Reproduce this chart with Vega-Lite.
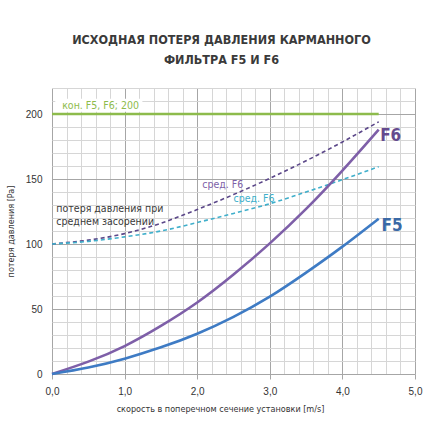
{
  "$schema": "https://vega.github.io/schema/vega-lite/v6.json",
  "width": 363,
  "height": 286,
  "autosize": {"type": "none"},
  "padding": {"left": 52, "top": 88, "right": 18, "bottom": 47},
  "background": "white",
  "title": {
    "text": ["ИСХОДНАЯ ПОТЕРЯ ДАВЛЕНИЯ КАРМАННОГО", "ФИЛЬТРА F5 И F6"],
    "font": "DejaVu Sans Condensed, sans-serif",
    "fontSize": 12.5,
    "fontWeight": "bold",
    "color": "#3a3a3a",
    "lineHeight": 20,
    "anchor": "middle",
    "baseline": "bottom",
    "offset": 4,
    "dx": -12
  },
  "config": {
    "view": {"stroke": null},
    "axis": {"labelFont": "Liberation Sans, sans-serif", "titleFont": "DejaVu Sans Condensed, sans-serif", "labelColor": "#333333", "titleColor": "#333333", "titleFontWeight": "normal"}
  },
  "datasets": {
    "curves": [
      {"series": "F6", "v": 0, "p": 0}, {"series": "F6", "v": 0.5, "p": 9.5}, {"series": "F6", "v": 1, "p": 21.5}, {"series": "F6", "v": 1.5, "p": 37}, {"series": "F6", "v": 2, "p": 55}, {"series": "F6", "v": 2.5, "p": 76.5}, {"series": "F6", "v": 3, "p": 100.5}, {"series": "F6", "v": 3.5, "p": 127}, {"series": "F6", "v": 4, "p": 156.5}, {"series": "F6", "v": 4.5, "p": 188},
      {"series": "F5", "v": 0, "p": 0}, {"series": "F5", "v": 0.5, "p": 5}, {"series": "F5", "v": 1, "p": 11.8}, {"series": "F5", "v": 1.5, "p": 20.5}, {"series": "F5", "v": 2, "p": 31}, {"series": "F5", "v": 2.5, "p": 44}, {"series": "F5", "v": 3, "p": 59.5}, {"series": "F5", "v": 3.5, "p": 78}, {"series": "F5", "v": 4, "p": 98}, {"series": "F5", "v": 4.5, "p": 119.5},
      {"series": "F6_avg", "v": 0, "p": 100}, {"series": "F6_avg", "v": 0.5, "p": 103}, {"series": "F6_avg", "v": 1, "p": 108}, {"series": "F6_avg", "v": 1.5, "p": 116}, {"series": "F6_avg", "v": 2, "p": 126.5}, {"series": "F6_avg", "v": 2.5, "p": 138}, {"series": "F6_avg", "v": 3, "p": 150.5}, {"series": "F6_avg", "v": 3.5, "p": 164}, {"series": "F6_avg", "v": 4, "p": 178.5}, {"series": "F6_avg", "v": 4.5, "p": 194},
      {"series": "F5_avg", "v": 0, "p": 100}, {"series": "F5_avg", "v": 0.5, "p": 102}, {"series": "F5_avg", "v": 1, "p": 105.5}, {"series": "F5_avg", "v": 1.5, "p": 110}, {"series": "F5_avg", "v": 2, "p": 116.5}, {"series": "F5_avg", "v": 2.5, "p": 123.5}, {"series": "F5_avg", "v": 3, "p": 131}, {"series": "F5_avg", "v": 3.5, "p": 140}, {"series": "F5_avg", "v": 4, "p": 149.5}, {"series": "F5_avg", "v": 4.5, "p": 159.5},
      {"series": "limit", "v": 0, "p": 200}, {"series": "limit", "v": 4.5, "p": 200}
    ],
    "labels": [
      {"label": "F6", "series": "F6L", "v": 4.52, "p": 183.4},
      {"label": "F5", "series": "F5L", "v": 4.54, "p": 114.2},
      {"label": "кон. F5, F6; 200", "series": "limit", "v": 0.14, "p": 206.4},
      {"label": "сред. F6", "series": "F6", "v": 2.07, "p": 145.6},
      {"label": "сред. F6", "series": "F5_avg", "v": 2.5, "p": 134.8},
      {"label": "потеря давления при", "series": "note", "v": 0.06, "p": 126.8},
      {"label": "среднем засорении", "series": "note", "v": 0.06, "p": 116.8}
    ],
    "box": [{"v": 0.045, "v2": 1.245, "p": 201.8, "p2": 211.8}]
  },
  "encoding": {
    "x": {
      "field": "v", "type": "quantitative",
      "scale": {"domain": [0, 5], "nice": false, "zero": false},
      "axis": {
        "title": "скорость в поперечном сечение установки [m/s]",
        "titleFontSize": 9, "titleX": 168, "titlePadding": 8,
        "values": [0, 0.2, 0.4, 0.6, 0.8, 1, 1.2, 1.4, 1.6, 1.8, 2, 2.2, 2.4, 2.6, 2.8, 3, 3.2, 3.4, 3.6, 3.8, 4, 4.2, 4.4, 4.6, 4.8, 5],
        "grid": true,
        "gridColor": {"condition": {"test": "abs(datum.value - round(datum.value)) < 0.001", "value": "#A6A6A6"}, "value": "#D6D6D6"},
        "gridWidth": 1,
        "domain": false,
        "tickColor": "#A6A6A6", "tickSize": 5,
        "tickOpacity": {"condition": {"test": "abs(datum.value - round(datum.value)) < 0.001", "value": 1}, "value": 0},
        "labelExpr": "abs(datum.value - round(datum.value)) < 0.001 ? replace(format(datum.value, '.1f'), '.', ',') : ''",
        "labelFontSize": 10, "labelPadding": 7, "labelOverlap": false, "labelFlush": false
      }
    },
    "y": {
      "field": "p", "type": "quantitative",
      "scale": {"domain": [0, 220], "nice": false},
      "axis": {
        "title": "потеря давления [Pa]",
        "titleFontSize": 9, "titlePadding": 10,
        "values": [0, 10, 20, 30, 40, 50, 60, 70, 80, 90, 100, 110, 120, 130, 140, 150, 160, 170, 180, 190, 200, 210, 220],
        "grid": true,
        "gridColor": {"condition": {"test": "datum.value % 50 == 0", "value": "#A6A6A6"}, "value": "#D6D6D6"},
        "domain": false, "ticks": false,
        "labelExpr": "datum.value % 50 == 0 ? datum.label : ''",
        "labelFontSize": 10, "labelPadding": 10, "labelOverlap": false
      }
    }
  },
  "layer": [
    {
      "data": {"name": "box"},
      "mark": {"type": "rect", "color": "white"},
      "encoding": {"x2": {"field": "v2"}, "y2": {"field": "p2"}}
    },
    {
      "data": {"name": "curves"},
      "transform": [{"filter": "datum.series == 'F6_avg' || datum.series == 'F5_avg'"}],
      "mark": {"type": "line", "strokeWidth": 1.6, "strokeDash": [4, 3], "interpolate": "natural"},
      "encoding": {
        "color": {"field": "series", "type": "nominal", "legend": null,
          "scale": {"domain": ["F6", "F5", "F6_avg", "F5_avg", "limit", "note", "F6L", "F5L"], "range": ["#7E5FA8", "#3E7BC4", "#5B4789", "#40AFCB", "#8DBB4C", "#3a3a3a", "#654A8E", "#3A69A6"]}},
        "detail": {"field": "series"}
      }
    },
    {
      "data": {"name": "curves"},
      "transform": [{"filter": "datum.series == 'F6' || datum.series == 'F5' || datum.series == 'limit'"}],
      "mark": {"type": "line", "strokeWidth": 2.6, "interpolate": "natural"},
      "encoding": {
        "color": {"field": "series", "type": "nominal", "legend": null},
        "detail": {"field": "series"}
      }
    },
    {
      "data": {"name": "labels"},
      "transform": [{"filter": "datum.series == 'F6L' || datum.series == 'F5L'"}],
      "mark": {"type": "text", "align": "left", "baseline": "middle", "fontSize": 17, "fontWeight": "bold", "font": "DejaVu Sans Condensed, sans-serif"},
      "encoding": {
        "text": {"field": "label"},
        "color": {"field": "series", "type": "nominal", "legend": null}
      }
    },
    {
      "data": {"name": "labels"},
      "transform": [{"filter": "datum.series != 'F6L' && datum.series != 'F5L'"}],
      "mark": {"type": "text", "align": "left", "baseline": "middle", "fontSize": 10.5, "font": "DejaVu Sans Condensed, sans-serif"},
      "encoding": {
        "text": {"field": "label"},
        "color": {"field": "series", "type": "nominal", "legend": null}
      }
    }
  ]
}
